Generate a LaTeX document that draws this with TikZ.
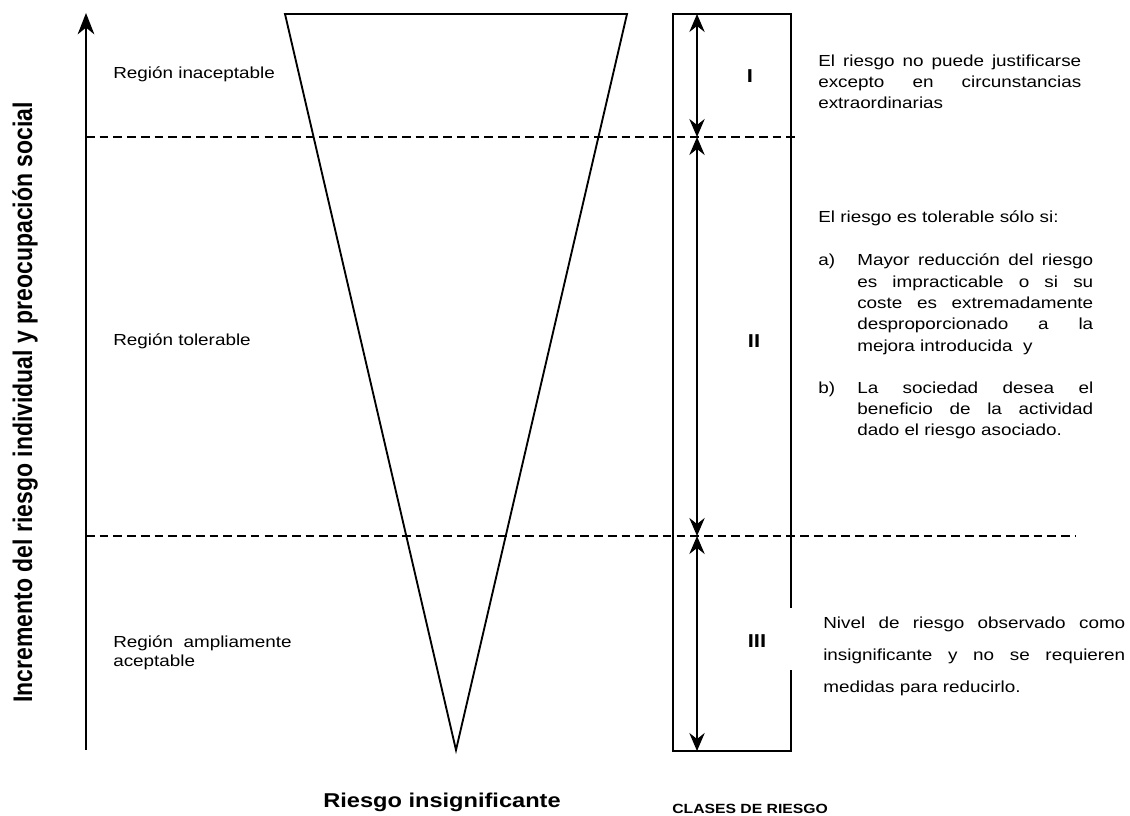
\documentclass[tikz,border=0pt]{standalone}
\usepackage{fontspec}
\setmainfont{Liberation Sans}[FakeStretch=1.18]
\newfontfamily\plainarial{Liberation Sans}
\usetikzlibrary{arrows.meta}
\begin{document}
\begin{tikzpicture}[x=0.75pt,y=-0.75pt,
  line/.style={line width=1.4pt},
  dashline/.style={line width=1.1pt, dash pattern=on 6.5pt off 3.8pt},
  tipone/.style={-{Stealth[length=16pt,width=12.5pt,inset=5pt]}},
  tiptwo/.style={{Stealth[length=13.5pt,width=11.5pt,inset=4.5pt]}-{Stealth[length=13.5pt,width=11.5pt,inset=4.5pt]}},
  body/.style={font=\fontsize{12}{15.5}\selectfont, inner sep=0pt},
  roman/.style={font=\fontsize{14}{16}\selectfont\bfseries, inner sep=0pt, anchor=base},
]
\useasboundingbox (0,0) rectangle (1130,816);

% vertical axis
\coordinate (axB) at (86,750);
\coordinate (axT) at (86,13);
\draw[line, tipone] (axB) -- (axT);

% triangle
\coordinate (tl) at (285,14);
\coordinate (tr) at (627,14);
\coordinate (tb) at (456,750);
\draw[line, line join=miter] (tl) -- (tr) -- (tb) -- cycle;

% dashed levels
\coordinate (d1a) at (86,137);
\coordinate (d1b) at (800,137);
\coordinate (d2a) at (86,536);
\coordinate (d2b) at (1075,536);
\draw[dashline] (d1a) -- (d1b);
\draw[dashline] (d2a) -- (d2b);

% class box
\draw[line] (791,608) -- (791,14) -- (673,14) -- (673,751) -- (791,751) -- (791,670);

% double arrows
\coordinate (a0) at (697,14);
\coordinate (a1) at (697,137);
\coordinate (a2) at (697,536);
\coordinate (a3) at (697,751);
\draw[line, tiptwo] (a0) -- (a1);
\draw[line, tiptwo] (a1) -- (a2);
\draw[line, tiptwo] (a2) -- (a3);

% roman numerals
\node[roman] (c1) at (750,83) {I};
\node[roman] (c2) at (754,347) {II};
\node[roman] (c3) at (757,647) {III};

% region labels
\node[body, anchor=base west] (reg1) at (113,79) {Región inaceptable};
\node[body, anchor=base west] (reg2) at (113,345) {Región tolerable};
\node[body, anchor=base west] (reg3a) at (113,647) {Región\ \ ampliamente};
\node[body, anchor=base west] (reg3b) at (113,666) {aceptable};

% descriptions
\node[body, anchor=base west, text width=197.25pt, align=justify] (t1) at (818,66.7)
  {El riesgo no puede justificarse\linebreak excepto en circunstancias\linebreak extraordinarias};
\node[body, anchor=base west] (t2h) at (818,223) {El riesgo es tolerable sólo si:};
\node[body, anchor=base west] (ta) at (818,266) {a)};
\node[body, anchor=base west, text width=177pt, align=justify, font=\fontsize{12}{16}\selectfont] (tat) at (857,266)
  {Mayor reducción del riesgo\linebreak es impracticable o si su\linebreak coste es extremadamente\linebreak desproporcionado a la\linebreak mejora introducida\ \ y};
\node[body, anchor=base west] (tb) at (818,393) {b)};
\node[body, anchor=base west, text width=177pt, align=justify, font=\fontsize{12}{16}\selectfont] (tbt) at (857,393)
  {La sociedad desea el\linebreak beneficio de la actividad\linebreak dado el riesgo asociado.};
\node[body, anchor=base west, text width=226.5pt, align=justify, font=\fontsize{12}{24}\selectfont] (t3) at (823,628)
  {Nivel de riesgo observado como\linebreak insignificante y no se requieren\linebreak medidas para reducirlo.};

% axis titles
\node[font=\fontsize{15}{18}\selectfont\bfseries, anchor=base, inner sep=0pt] (xl) at (442,807) {Riesgo insignificante};
\node[font=\fontsize{10}{12}\selectfont\bfseries, anchor=base west, inner sep=0pt] (cl) at (672,813) {CLASES DE RIESGO};
\node[rotate=90, anchor=base west, inner sep=0pt, font=\plainarial\fontsize{17.25}{20}\selectfont\bfseries] (yl) at (32,703)
  {\scalebox{1}[1.17]{Incremento del riesgo individual y preocupación social}};
\end{tikzpicture}
\end{document}
